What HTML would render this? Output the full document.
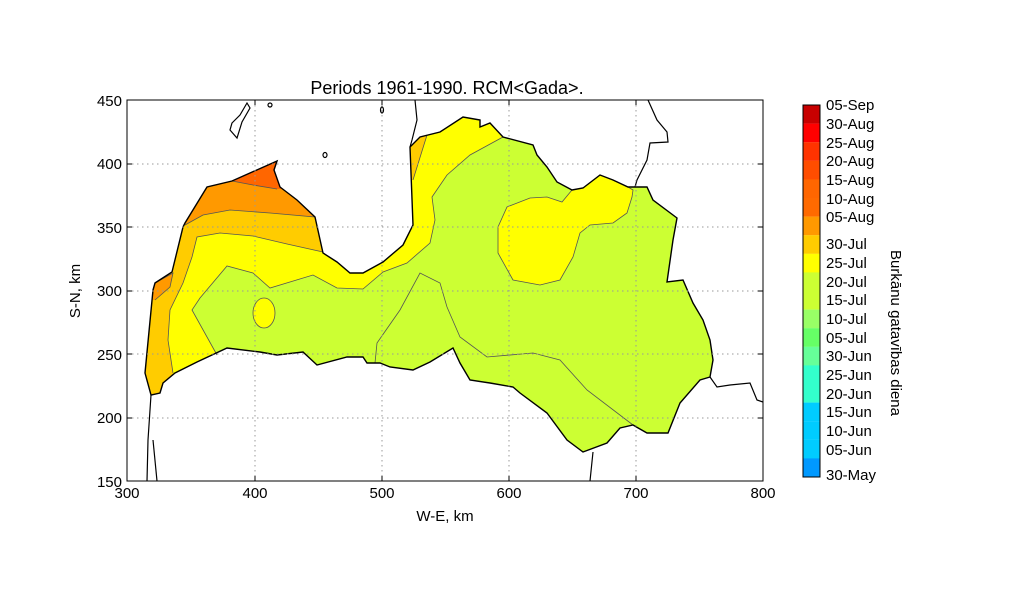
<!DOCTYPE html>
<html><head><meta charset="utf-8"><style>
body{margin:0;background:#fff}
svg text{font-family:"Liberation Sans",sans-serif;fill:#000}
</style></head><body>
<svg width="1024" height="597" viewBox="0 0 1024 597" xmlns="http://www.w3.org/2000/svg">
<defs>
<clipPath id="land"><path id="lp" d="M151,395 L145,373 L153,290 L155,283 L172,272 L183,227 L185,223 L207,187 L232,181 L277,161 L274,170 L280,187 L297,200 L315,217 L323,253 L337,262 L350,273 L363,273 L383,262 L403,245 L413,225 L410,147 L420,137 L440,132 L463,117 L480,120 L480,127 L490,123 L503,137 L533,145 L537,155 L547,167 L557,182 L572,190 L583,188 L600,175 L613,180 L628,187 L647,187 L653,200 L677,218 L673,240 L667,282 L683,280 L693,303 L703,320 L710,340 L713,360 L710,377 L700,380 L680,403 L668,433 L647,433 L633,425 L620,428 L607,443 L583,452 L567,440 L547,413 L520,393 L513,387 L490,383 L470,380 L460,363 L453,348 L430,362 L413,370 L390,367 L380,363 L367,363 L363,357 L347,357 L317,365 L303,352 L277,355 L260,352 L227,348 L197,362 L175,373 L163,383 L160,393 Z"/></clipPath>
</defs>
<rect x="127" y="100" width="636" height="381" fill="#fff"/>
<g clip-path="url(#land)">
<rect x="120" y="100" width="650" height="390" fill="#ccff33"/>
<!-- yellow band -->
<path d="M100,100 L503,100 L503,137 L470,155 L447,175 L432,197 L435,220 L430,243 L407,263 L383,272 L363,289 L337,288 L313,275 L270,288 L253,273 L227,266 L200,298 L192,310 L217,355 L217,400 L100,400 Z" fill="#ffff00"/>
<ellipse cx="264" cy="313" rx="11" ry="15" fill="#ffff00" stroke="#555" stroke-width="0.8"/>
<path d="M572,190 L583,188 L600,175 L613,180 L628,187 L633,190 L632,197 L627,213 L613,223 L590,225 L580,233 L573,257 L560,280 L540,285 L513,280 L498,253 L498,227 L507,207 L530,198 L547,197 L562,202 Z" fill="#ffff00" stroke="#555" stroke-width="0.8"/>
<!-- light orange -->
<path d="M100,100 L400,100 L323,252 L287,244 L253,236 L220,233 L197,237 L192,257 L183,283 L170,310 L168,340 L173,373 L173,420 L100,420 Z" fill="#ffcc00"/>
<path d="M400,100 L427,100 L427,135 L413,180 L400,180 Z" fill="#ffcc00"/>
<path d="M140,270 L155,283 L173,273 L170,287 L155,300 L140,300 Z" fill="#ff9900"/>
<!-- orange -->
<path d="M100,100 L350,100 L315,217 L270,213 L230,210 L203,215 L185,225 L100,230 Z" fill="#ff9900"/>
<!-- dark orange -->
<path d="M230,100 L300,100 L285,189 L277,189 L253,185 L232,181 Z" fill="#ff6600"/>
</g>
<g fill="none" stroke="#555" stroke-width="0.8">
<path d="M503,137 L470,155 L447,175 L432,197 L435,220 L430,243 L407,263 L383,272 L363,289 L337,288 L313,275 L270,288 L253,273 L227,266 L200,298 L192,310 L217,355"/>
<path d="M323,252 L287,244 L253,236 L220,233 L197,237 L192,257 L183,283 L170,310 L168,340 L173,373"/>
<path d="M315,217 L270,213 L230,210 L203,215 L185,225"/>
<path d="M277,189 L253,185 L232,181"/>
<path d="M155,283 L173,273 L170,287 L155,300"/>
<path d="M427,135 L413,180"/>
<path d="M633,425 L587,390 L560,360 L533,353 L487,357 L460,337 L447,307 L440,283 L420,273 L400,310 L377,343 L375,363"/>
</g>
<use href="#lp" fill="none" stroke="#000" stroke-width="1.4"/>
<g fill="none" stroke="#000" stroke-width="1.2">
<path d="M415,100 L417,120 L412,140 L410,147"/>
<path d="M648,100 L657,120 L667,132 L668,142 L650,143 L647,160 L637,180 L635,187"/>
<path d="M710,377 L717,387 L730,385 L750,383 L757,400 L763,402"/>
<path d="M593,452 L590,481"/>
<path d="M151,395 L148,440 L147,481"/><path d="M153,440 L157,481"/>
<path d="M232,123 L240,115 L247,103 L250,108 L242,122 L237,138 L230,130 Z"/>
<ellipse cx="325" cy="155" rx="2" ry="2.5"/><ellipse cx="382" cy="110" rx="1.5" ry="3"/><ellipse cx="270" cy="105" rx="2" ry="2"/>
</g>
<g stroke="#999" stroke-width="1" stroke-dasharray="1.5,3.5" fill="none">
<path d="M255,100V481M382,100V481M509,100V481M636,100V481"/>
<path d="M127,164H763M127,227H763M127,291H763M127,354H763M127,418H763"/>
</g>
<rect x="127" y="100" width="636" height="381" fill="none" stroke="#000" stroke-width="1"/>
<g stroke="#000" stroke-width="1">
<path d="M255,481v-5M382,481v-5M509,481v-5M636,481v-5M255,100v5M382,100v5M509,100v5M636,100v5"/>
<path d="M127,164h5M127,227h5M127,291h5M127,354h5M127,418h5M763,164h-5M763,227h-5M763,291h-5M763,354h-5M763,418h-5"/>
</g>
<g font-size="15" text-anchor="middle">
<text x="127" y="498">300</text><text x="255" y="498">400</text><text x="382" y="498">500</text><text x="509" y="498">600</text><text x="636" y="498">700</text><text x="763" y="498">800</text>
<text x="445" y="521">W-E, km</text>
<text x="447" y="94" font-size="18">Periods 1961-1990. RCM&lt;Gada&gt;.</text>
</g>
<g font-size="15" text-anchor="end">
<text x="122" y="106">450</text><text x="122" y="169">400</text><text x="122" y="233">350</text><text x="122" y="296">300</text><text x="122" y="360">250</text><text x="122" y="423">200</text><text x="122" y="487">150</text>
</g>
<text font-size="15" text-anchor="middle" transform="translate(80,291) rotate(-90)">S-N, km</text>
<g>
<rect x="803" y="105.0" width="17" height="18.7" fill="#c80000"/>
<rect x="803" y="123.6" width="17" height="18.7" fill="#ff0000"/>
<rect x="803" y="142.2" width="17" height="18.7" fill="#ff3300"/>
<rect x="803" y="160.8" width="17" height="18.7" fill="#ff4d00"/>
<rect x="803" y="179.4" width="17" height="18.7" fill="#ff6600"/>
<rect x="803" y="198.0" width="17" height="18.7" fill="#ff6a00"/>
<rect x="803" y="216.6" width="17" height="18.7" fill="#ff9900"/>
<rect x="803" y="235.2" width="17" height="18.7" fill="#ffcc00"/>
<rect x="803" y="253.8" width="17" height="18.7" fill="#ffff00"/>
<rect x="803" y="272.4" width="17" height="18.7" fill="#ccff33"/>
<rect x="803" y="291.0" width="17" height="18.7" fill="#ccff33"/>
<rect x="803" y="309.6" width="17" height="18.7" fill="#99ff66"/>
<rect x="803" y="328.2" width="17" height="18.7" fill="#66ff66"/>
<rect x="803" y="346.8" width="17" height="18.7" fill="#66ff99"/>
<rect x="803" y="365.4" width="17" height="18.7" fill="#33ffcc"/>
<rect x="803" y="384.0" width="17" height="18.7" fill="#33ffcc"/>
<rect x="803" y="402.6" width="17" height="18.7" fill="#00ccff"/>
<rect x="803" y="421.2" width="17" height="18.7" fill="#00ccff"/>
<rect x="803" y="439.8" width="17" height="18.7" fill="#00ccff"/>
<rect x="803" y="458.4" width="17" height="18.6" fill="#0099ff"/>
<rect x="803" y="105" width="17" height="372" fill="none" stroke="#000" stroke-width="1"/>
</g>
<g font-size="15">
<text x="826" y="110">05-Sep</text><text x="826" y="129">30-Aug</text><text x="826" y="148">25-Aug</text><text x="826" y="166">20-Aug</text><text x="826" y="185">15-Aug</text><text x="826" y="204">10-Aug</text><text x="826" y="222">05-Aug</text><text x="826" y="249">30-Jul</text><text x="826" y="268">25-Jul</text><text x="826" y="287">20-Jul</text><text x="826" y="305">15-Jul</text><text x="826" y="324">10-Jul</text><text x="826" y="343">05-Jul</text><text x="826" y="361">30-Jun</text><text x="826" y="380">25-Jun</text><text x="826" y="399">20-Jun</text><text x="826" y="417">15-Jun</text><text x="826" y="436">10-Jun</text><text x="826" y="455">05-Jun</text><text x="826" y="480">30-May</text>
</g>
<text font-size="15" text-anchor="middle" transform="translate(891,333) rotate(90)">Burkānu gatavības diena</text>
</svg>
</body></html>
